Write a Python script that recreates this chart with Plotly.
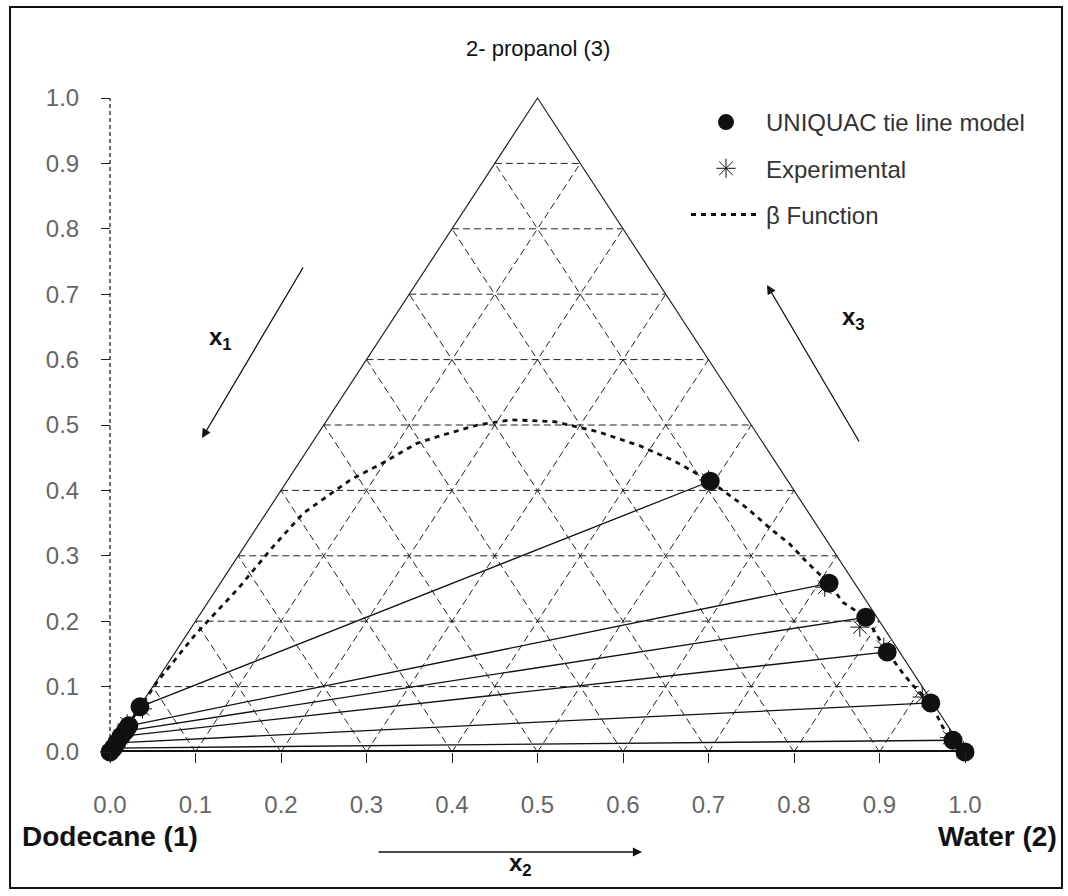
import plotly.graph_objects as go

# Plane coordinates of the ternary diagram: horizontal position and x3 (2-propanol)
# Dodecane-rich phase (UNIQUAC)
org_pos = [0.035, 0.022, 0.018, 0.013, 0.008, 0.004, 0.000]
org_x3 = [0.069, 0.040, 0.032, 0.024, 0.014, 0.006, 0.000]
# Water-rich phase (UNIQUAC)
aq_pos = [0.702, 0.841, 0.884, 0.909, 0.960, 0.986, 1.000]
aq_x3 = [0.414, 0.258, 0.206, 0.153, 0.075, 0.018, 0.000]

# Experimental tie-line ends
exp_org_pos = [0.038, 0.020, 0.016, 0.012, 0.007, 0.003, 0.000]
exp_org_x3 = [0.066, 0.043, 0.030, 0.022, 0.012, 0.005, 0.000]
exp_aq_pos = [0.700, 0.836, 0.877, 0.905, 0.950, 0.982, 0.998]
exp_aq_x3 = [0.416, 0.252, 0.191, 0.160, 0.084, 0.022, 0.002]

# Binodal curve from the beta function
beta_pos = [0.000, 0.013, 0.035, 0.055, 0.100, 0.150, 0.190, 0.226, 0.281, 0.319,
            0.359, 0.390, 0.430, 0.470, 0.520, 0.570, 0.620, 0.660, 0.702, 0.745,
            0.772, 0.795, 0.816, 0.841, 0.857, 0.884, 0.909, 0.927, 0.939, 0.960,
            0.974, 0.986, 1.000]
beta_x3 = [0.000, 0.025, 0.069, 0.107, 0.180, 0.250, 0.313, 0.365, 0.416, 0.442,
           0.472, 0.485, 0.500, 0.508, 0.505, 0.490, 0.468, 0.445, 0.414, 0.373,
           0.342, 0.318, 0.289, 0.258, 0.229, 0.206, 0.153, 0.121, 0.102, 0.075,
           0.038, 0.018, 0.000]

tick_vals = [0.0, 0.1, 0.2, 0.3, 0.4, 0.5, 0.6, 0.7, 0.8, 0.9, 1.0]
tick_text = ["0.0", "0.1", "0.2", "0.3", "0.4", "0.5", "0.6", "0.7", "0.8", "0.9", "1.0"]

W, H = 1068, 896
PX_UNIT_X, PX_UNIT_Y = 855.0, 654.0
ORIGIN_PX, BASE_PX = 110.0, 752.0

x_range = [-ORIGIN_PX / PX_UNIT_X, (W - ORIGIN_PX) / PX_UNIT_X]
y_range = [0.0, BASE_PX / PX_UNIT_Y]


def px_x(px):
    """Horizontal pixel -> data x."""
    return (px - ORIGIN_PX) / PX_UNIT_X


def px_y(py):
    """Vertical pixel -> data y."""
    return (BASE_PX - py) / PX_UNIT_Y


def paper_y(py):
    """Vertical pixel -> paper y (plot area spans 0..BASE_PX)."""
    return (BASE_PX - py) / BASE_PX


fig = go.Figure()

# Dashed composition grid inside the triangle
gx, gy = [], []
for t in tick_vals[1:-1]:
    gx += [t / 2, 1 - t / 2, None]
    gy += [t, t, None]
    gx += [t, t + (1 - t) / 2, None]
    gy += [0, 1 - t, None]
    gx += [t, t / 2, None]
    gy += [0, t, None]
fig.add_trace(go.Scatter(x=gx, y=gy, mode="lines", showlegend=False, hoverinfo="skip",
                         line=dict(color="#222", width=1, dash="7px,4px")))

# Triangle sides
fig.add_trace(go.Scatter(x=[0, 0.5, 1], y=[0, 1, 0], mode="lines", showlegend=False,
                         hoverinfo="skip", line=dict(color="#222", width=1.2)))
fig.add_trace(go.Scatter(x=[0, 1], y=[0, 0], mode="lines", showlegend=False, cliponaxis=False,
                         hoverinfo="skip", line=dict(color="#111", width=4)))
# Dotted vertical axis line
fig.add_trace(go.Scatter(x=[0, 0], y=[0, 1], mode="lines", showlegend=False, cliponaxis=False,
                         hoverinfo="skip", line=dict(color="#222", width=1.3, dash="4px,3px")))

# Tie lines
tx, ty = [], []
for a, b, c, d in zip(org_pos, org_x3, aq_pos, aq_x3):
    tx += [a, c, None]
    ty += [b, d, None]
fig.add_trace(go.Scatter(x=tx, y=ty, mode="lines", showlegend=False, hoverinfo="skip",
                         cliponaxis=False, line=dict(color="#111", width=1.3)))

fig.add_trace(go.Scatter(x=org_pos + aq_pos, y=org_x3 + aq_x3, mode="markers",
                         name="UNIQUAC tie line model", cliponaxis=False, legendgroup="a",
                         marker=dict(symbol="circle", size=19, color="#111")))
fig.add_trace(go.Scatter(x=exp_org_pos + exp_aq_pos, y=exp_org_x3 + exp_aq_x3, mode="markers",
                         name="Experimental", cliponaxis=False, legendgroup="b",
                         marker=dict(symbol="asterisk-open", size=16, color="#111",
                                     line=dict(color="#111", width=1))))
fig.add_trace(go.Scatter(x=beta_pos, y=beta_x3, mode="lines", name="\u03b2 Function",
                         cliponaxis=False, legendgroup="c",
                         line=dict(color="#111", width=2.8, dash="5px,5px")))

title_font = dict(family="Liberation Sans, Arial", size=22, color="#111")
bold_font = dict(family="Liberation Sans, Arial", size=28, color="#111")
sub_font = dict(family="Liberation Sans, Arial", size=24, color="#111")

annotations = [
    dict(x=0.5, y=px_y(48), text="2- propanol (3)", font=title_font),
    dict(x=px_x(110), y=paper_y(854), yref="paper", text="<b>Dodecane (1)</b>", font=bold_font),
    dict(x=px_x(997), y=paper_y(854), yref="paper", text="<b>Water (2)</b>", font=bold_font),
    dict(x=px_x(520), y=paper_y(882), yref="paper", text="<b>x<sub>2</sub></b>", font=sub_font),
    dict(x=px_x(220), y=px_y(338), text="<b>x<sub>1</sub></b>", font=sub_font),
    dict(x=px_x(853), y=px_y(318), text="<b>x<sub>3</sub></b>", font=sub_font),
    # Direction arrows
    dict(x=px_x(642), y=paper_y(852), yref="paper", ax=-265, ay=0, axref="pixel",
         ayref="pixel", text="", showarrow=True, arrowhead=2, arrowsize=1.4,
         arrowwidth=1.3, arrowcolor="#111"),
    dict(x=px_x(202), y=px_y(438), ax=px_x(304), ay=px_y(266), axref="x", ayref="y",
         text="", showarrow=True, arrowhead=2, arrowsize=1.4, arrowwidth=1.3,
         arrowcolor="#111"),
    dict(x=px_x(767), y=px_y(285), ax=px_x(860), ay=px_y(443), axref="x", ayref="y",
         text="", showarrow=True, arrowhead=2, arrowsize=1.4, arrowwidth=1.3,
         arrowcolor="#111"),
]
for a in annotations:
    a.setdefault("showarrow", False)
    a.setdefault("xref", "x")
    a.setdefault("yref", "y")

tick_font = dict(family="Liberation Sans, Arial", size=24, color="#666")

fig.update_layout(
    width=W, height=H,
    margin=dict(l=0, r=0, t=0, b=H - BASE_PX),
    paper_bgcolor="white", plot_bgcolor="white",
    xaxis=dict(range=x_range, tickvals=tick_vals, ticktext=tick_text, ticks="outside",
               ticklen=10, tickwidth=1.2, tickcolor="#222", showgrid=False, zeroline=False,
               showline=False, tickfont=tick_font, ticklabelstandoff=21, fixedrange=True),
    yaxis=dict(range=y_range, tickvals=tick_vals, ticktext=tick_text, ticks="outside",
               ticklen=9, tickwidth=1.2, tickcolor="#222", showgrid=False, zeroline=False,
               showline=False, tickfont=tick_font, ticklabelstandoff=17,
               anchor="free", position=-x_range[0] / (x_range[1] - x_range[0]),
               fixedrange=True),
    legend=dict(x=686 / W, y=paper_y(100), xanchor="left", yanchor="top",
                bgcolor="rgba(0,0,0,0)", font=dict(family="Liberation Sans, Arial",
                                                   size=24, color="#333"),
                itemwidth=70, tracegroupgap=12),
    annotations=annotations,
    shapes=[dict(type="rect", xref="paper", yref="paper", x0=10 / W, x1=1 - 6 / W,
                 y0=paper_y(888), y1=paper_y(7),
                 line=dict(color="#111", width=2))],
    showlegend=True,
)

fig.write_html("out.html")
